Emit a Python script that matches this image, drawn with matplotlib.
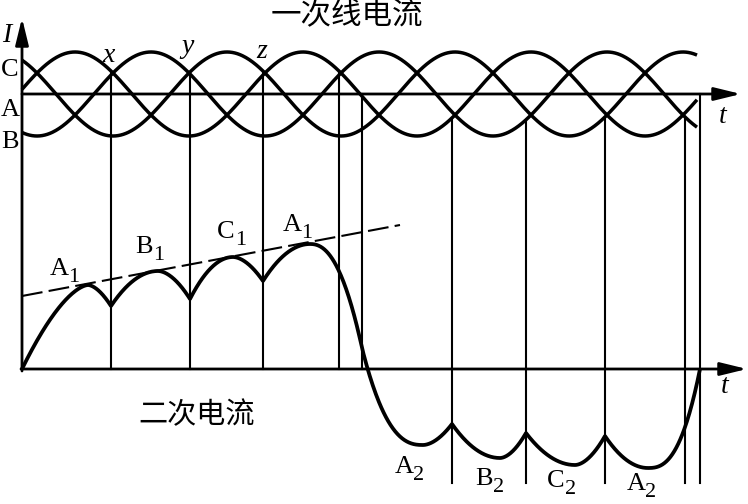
import numpy as np
import matplotlib.pyplot as plt

# primary line currents (three phase), in pixel units
sine_center = 94
sine_amp = 42
sine_period = 228
sine_x0 = 18
sine_start, sine_end = 22, 697
phase_deg = {'A': 0, 'B': -120, 'C': 120}

# vertical guide lines
upper_cuts = [111, 190, 263, 339]     # at upper crossings, down to secondary axis
lower_cuts = [452, 526, 605, 685]     # at lower crossings, down to bottom
mid_cut = 362
end_cut = 700
bottom_y = 483

# secondary current: knots (cusps / extrema) and arc exponents
knot_x = [22, 88, 111, 158, 190, 233, 263, 310, 362, 423, 452, 500, 526, 575, 605, 648, 700]
knot_y = [369, 285, 306, 271, 299, 257, 281, 244, 348, 445, 424, 458, 433, 465, 436, 468, 369]
knot_flat = [False, True] * 8 + [False]
seg_pow = [1.6, 1.7, 2.0, 1.8, 2.0, 1.8, 2.0, 2.3, 2.5, 1.8, 2.0, 1.8, 2.0, 1.8, 2.0, 2.6]

# dashed envelope
dash_x = [22, 400]
dash_y = [296, 225]

sub_labels = [('A', '1', 50, 275), ('B', '1', 135, 253), ('C', '1', 217, 238), ('A', '1', 283, 231),
              ('A', '2', 395, 473), ('B', '2', 475, 485), ('C', '2', 547, 487), ('A', '2', 627, 490)]


def phase(x, name):
    th = 2 * np.pi * (x - sine_x0) / sine_period + np.deg2rad(phase_deg[name])
    return sine_center - sine_amp * np.sin(th)


def arc_curve(kx, ky, flat, powers):
    xs, ys = [], []
    for i in range(len(kx) - 1):
        x = np.linspace(kx[i], kx[i + 1], 80)
        p = powers[i]
        if flat[i]:
            s = (x - kx[i]) / (kx[i + 1] - kx[i])
            y = ky[i] + (ky[i + 1] - ky[i]) * s ** p
        else:
            s = (kx[i + 1] - x) / (kx[i + 1] - kx[i])
            y = ky[i + 1] + (ky[i] - ky[i + 1]) * s ** p
        xs.append(x)
        ys.append(y)
    return np.concatenate(xs), np.concatenate(ys)


fig = plt.figure(figsize=(7.48, 5.04), dpi=100)
ax = fig.add_axes([0, 0, 1, 1])
ax.set_xlim(0, 748)
ax.set_ylim(504, 0)
ax.axis('off')

arrow = dict(arrowstyle='-|>,head_length=0.9,head_width=0.22', lw=2, color='k',
             mutation_scale=18, shrinkA=0, shrinkB=0)
ax.annotate('', xy=(22, 18), xytext=(22, 371), arrowprops=arrow)
ax.annotate('', xy=(741, 94), xytext=(22, 94), arrowprops=arrow)
ax.annotate('', xy=(747, 369), xytext=(21, 369), arrowprops=arrow)

xs = np.linspace(sine_start, sine_end, 800)
for name in phase_deg:
    ax.plot(xs, phase(xs, name), color='k', lw=2.5, solid_capstyle='butt')

for x in upper_cuts:
    top = min(phase(x, n) for n in phase_deg)
    ax.plot([x, x], [top, 369], color='k', lw=1.5)
for x in lower_cuts:
    top = max(phase(x, n) for n in phase_deg)
    ax.plot([x, x], [top, bottom_y], color='k', lw=1.5)
ax.plot([mid_cut, mid_cut], [94, 369], color='k', lw=1.5)
ax.plot([end_cut, end_cut], [94, bottom_y], color='k', lw=1.5)

cx, cy = arc_curve(knot_x, knot_y, knot_flat, seg_pow)
ax.plot(cx, cy, color='k', lw=2.7, solid_capstyle='butt')

ax.plot(dash_x, dash_y, color='k', lw=1.5, dashes=(10, 3))

serif = 'Liberation Serif'
for txt, x, y in [('I', 2, 42), ('x', 102, 62), ('y', 181, 53), ('z', 256, 58),
                  ('t', 719, 123), ('t', 721, 393)]:
    ax.text(x, y, txt, fontsize=20, family=serif, style='italic', ha='left', va='baseline')
for txt, x, y in [('C', 1, 76), ('A', 1, 116), ('B', 1, 148)]:
    ax.text(x, y, txt, fontsize=19, family=serif, ha='left', va='baseline')

for base, sub, x, y in sub_labels:
    ax.text(x, y, base, fontsize=19, family=serif, ha='left', va='baseline')
    ax.text(x + 18, y + 7, sub, fontsize=16, family=serif, ha='left', va='baseline')

cjk = ['Noto Sans CJK SC', 'DejaVu Sans']
ax.text(347, 15, '一次线电流', fontsize=22, family=cjk, ha='center', va='center')
ax.text(197, 415, '二次电流', fontsize=21, family=cjk, ha='center', va='center')

fig.savefig('out.png', dpi=100)
